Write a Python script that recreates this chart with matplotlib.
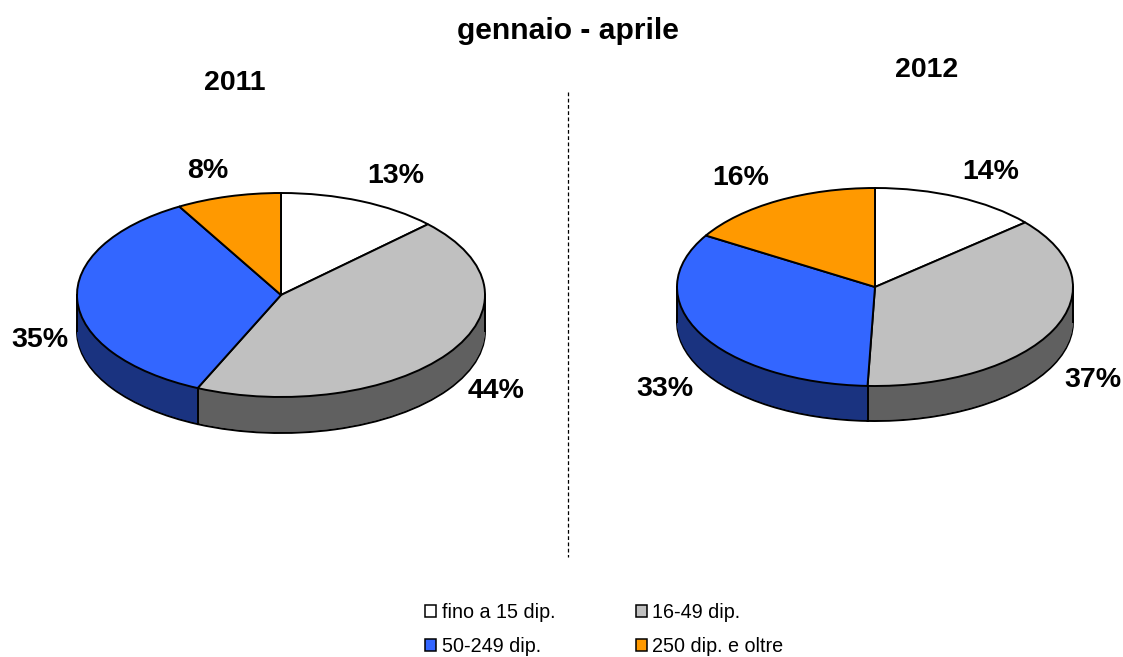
import numpy as np
import matplotlib
matplotlib.use('Agg')
import matplotlib.pyplot as plt
from matplotlib.lines import Line2D

plt.rcParams['font.family'] = ['Liberation Sans', 'DejaVu Sans']

W = 1123
H = 657

categories = ['fino a 15 dip.', '16-49 dip.', '50-249 dip.', '250 dip. e oltre']
values_2011 = [12.8, 43.9, 35.0, 8.3]
values_2012 = [13.7, 36.9, 33.1, 16.3]
top_colors = ['#ffffff', '#c0c0c0', '#3366ff', '#ff9900']
side_colors = ['#808080', '#606060', '#1a3380', '#804c00']
LW = 1.4


def pie3d(values, cx, cy, rx, ry, depth):
    # axes box in pixels, the y scale squashes the pie
    ax = fig.add_axes([(cx - rx) / W, (H - cy - ry - depth) / H, 2 * rx / W, (2 * ry + depth) / H])
    d = depth / ry
    ax.pie(values, radius=1, center=(0, -d), startangle=90, counterclock=False,
           colors=side_colors, wedgeprops=dict(edgecolor='black', linewidth=LW))
    for off in np.linspace(-d, 0, int(depth) + 1)[1:]:
        ax.pie(values, radius=1, center=(0, off), startangle=90, counterclock=False,
               colors=side_colors, wedgeprops=dict(linewidth=0))
    # vertical edges
    ax.plot([-1, -1], [0, -d], color='black', lw=LW)
    ax.plot([1, 1], [0, -d], color='black', lw=LW)
    ang = 0
    for v in values[:-1]:
        ang += v / sum(values) * 2 * np.pi
        x, y = np.sin(ang), np.cos(ang)
        if y < 0:
            ax.plot([x, x], [y, y - d], color='black', lw=LW)
    wedges, _ = ax.pie(values, radius=1, center=(0, 0), startangle=90, counterclock=False,
                       colors=top_colors, wedgeprops=dict(edgecolor='black', linewidth=LW))
    ax.set_aspect('auto')
    ax.set_xlim(-1, 1)
    ax.set_ylim(-1 - d, 1)
    ax.axis('off')
    for a in ax.patches + ax.lines:
        a.set_clip_on(False)
    return wedges


fig = plt.figure(figsize=(W / 100, H / 100), dpi=100, facecolor='white')

wedges = pie3d(values_2011, 281, 295, 204, 102, 36)
pie3d(values_2012, 875, 287, 198, 99, 35)


def label(x, y, s, size=20.5):
    fig.text(x / W, 1 - (y + 2) / H, s, ha='center', va='center', fontsize=size, fontweight='bold', color='black')


label(568, 29, 'gennaio - aprile', 21.6)
label(235, 81, '2011', 20.5)
label(927, 68, '2012', 20.5)

label(396, 174, '13%')
label(496, 389, '44%')
label(40, 338, '35%')
label(208, 169, '8%')
label(991, 170, '14%')
label(1093, 378, '37%')
label(665, 387, '33%')
label(741, 176, '16%')

fig.add_artist(Line2D([568 / W, 568 / W], [1 - 92 / H, 1 - 557 / H], color='black', lw=0.9,
                      linestyle=(0, (3, 2))))

handles = [wedges[0], wedges[2], wedges[1], wedges[3]]
labels = [categories[0], categories[2], categories[1], categories[3]]
leg = fig.legend(handles, labels, ncol=2, loc='upper left', bbox_to_anchor=(425 / W, 1 - 603 / H),
                 frameon=False, fontsize=14.2, handlelength=0.56, handleheight=0.56, handletextpad=0.3,
                 labelspacing=0.76, columnspacing=4.06, borderpad=0, borderaxespad=0)
for h in leg.get_patches():
    h.set_linewidth(1.1)

fig.savefig('out.png', dpi=100)
